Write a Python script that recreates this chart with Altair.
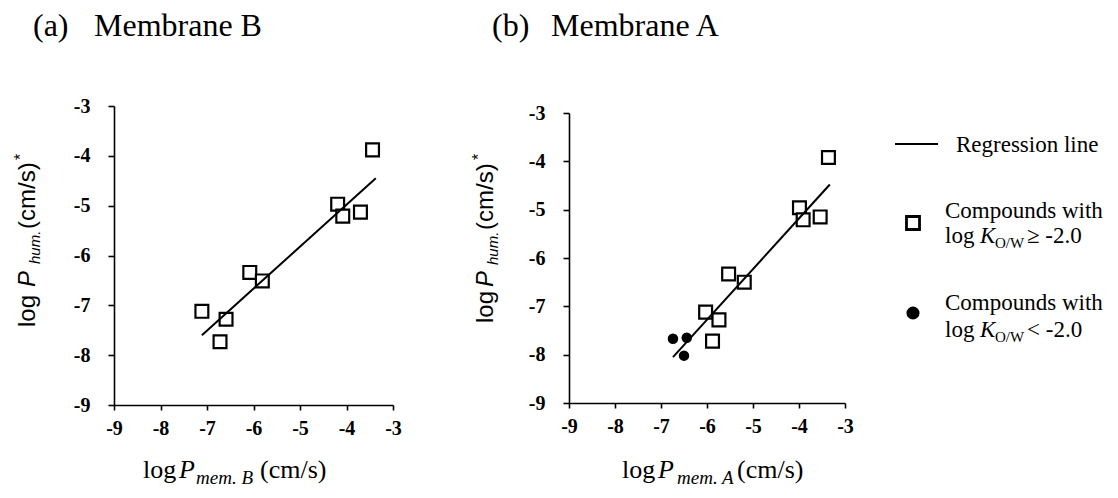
import altair as alt
import pandas as pd

# ---------------- data ----------------
ticks = [-9, -8, -7, -6, -5, -4, -3]

# (a) Membrane B : compounds with log K_O/W >= -2.0
a_x = [-7.11, -6.72, -6.59, -6.08, -5.81, -4.19, -4.08, -3.70, -3.44]
a_y = [-7.12, -7.73, -7.28, -6.34, -6.51, -4.97, -5.21, -5.13, -3.88]
a_line_x = [-7.11, -3.37]
a_line_y = [-7.60, -4.45]

# (b) Membrane A : compounds with log K_O/W >= -2.0
b_sq_x = [-6.03, -5.88, -5.74, -5.53, -5.19, -3.99, -3.91, -3.54, -3.36]
b_sq_y = [-7.12, -7.72, -7.28, -6.33, -6.50, -4.96, -5.21, -5.15, -3.92]
# (b) compounds with log K_O/W < -2.0
b_ci_x = [-6.74, -6.44, -6.50]
b_ci_y = [-7.67, -7.65, -8.02]
b_line_x = [-6.74, -3.33]
b_line_y = [-8.05, -4.48]

SERIF = "Liberation Serif"
SANS = "Liberation Sans"


def txt(s, x, y, font=SERIF, size=24, style="normal", weight="normal", angle=0):
    return alt.Chart(pd.DataFrame({"t": [s]})).mark_text(
        align="left", baseline="alphabetic", font=font, fontSize=size,
        fontStyle=style, fontWeight=weight, angle=angle, color="black"
    ).encode(x=alt.value(x), y=alt.value(y), text="t:N")


AX = alt.Axis(values=ticks, title=None, grid=False,
              labelExpr="'' + datum.value", labelFlush=False,
              labelFont=SERIF, labelFontSize=20, labelFontWeight="bold",
              labelColor="black")

sx = alt.Scale(domain=[-9, -3], nice=False, zero=False)
sy_a = alt.Scale(domain=[-9, -3], nice=False, zero=False)
# panel (b) plot area starts 7px lower than panel (a)
sy_b = alt.Scale(domain=[-9, -3], nice=False, zero=False, range=[297, 7])


def squares(xs, ys, sy):
    return alt.Chart(pd.DataFrame({"x": xs, "y": ys})).mark_point(
        shape="square", filled=True, fill="white", stroke="black",
        strokeWidth=2.2, size=165, opacity=1
    ).encode(x=alt.X("x:Q", scale=sx, axis=AX),
             y=alt.Y("y:Q", scale=sy, axis=AX))


def reg_line(xs, ys, sy):
    return alt.Chart(pd.DataFrame({"x": xs, "y": ys})).mark_line(
        color="black", strokeWidth=2
    ).encode(x=alt.X("x:Q", scale=sx), y=alt.Y("y:Q", scale=sy))


def y_title(bx, y_log, y_p, y_sub, y_cms, y_star):
    return [
        txt("log", bx, y_log, SANS, 24, angle=270),
        txt("P", bx, y_p, SANS, 24, style="italic", angle=270),
        txt("hum.", bx + 5, y_sub, SANS, 15, style="italic", angle=270),
        txt("(cm/s)", bx, y_cms, SANS, 24, angle=270),
        txt("*", bx - 9, y_star, SANS, 16, angle=270),
    ]


# ---------------- panel (a) ----------------
panel_a = alt.layer(
    squares(a_x, a_y, sy_a),
    reg_line(a_line_x, a_line_y, sy_a),
    txt("(a)", -81, -70, SERIF, 32),
    txt("Membrane B", -20, -70, SERIF, 32),
    *y_title(-79, 221, 181, 158, 123, 54),
    txt("log", 29, 372, SERIF, 26),
    txt("P", 65, 372, SERIF, 26, style="italic"),
    txt("mem. B", 82, 378, SERIF, 19, style="italic"),
    txt("(cm/s)", 146, 372, SERIF, 26),
).properties(width=279, height=299)

# ---------------- panel (b) ----------------
circles_b = alt.Chart(pd.DataFrame({"x": b_ci_x, "y": b_ci_y})).mark_point(
    shape="circle", filled=True, color="black", size=110, opacity=1
).encode(x=alt.X("x:Q", scale=sx), y=alt.Y("y:Q", scale=sy_b))

legend_line = alt.Chart(pd.DataFrame({"k": [0]})).mark_rule(
    color="black", strokeWidth=2
).encode(x=alt.value(326), x2=alt.value(369), y=alt.value(38))
legend_sq = alt.Chart(pd.DataFrame({"k": [0]})).mark_point(
    shape="square", filled=True, fill="white", stroke="black",
    strokeWidth=2.8, size=170, opacity=1
).encode(x=alt.value(344), y=alt.value(117))
legend_ci = alt.Chart(pd.DataFrame({"k": [0]})).mark_point(
    shape="circle", filled=True, color="black", size=170, opacity=1
).encode(x=alt.value(344), y=alt.value(207))

D = 7  # vertical offset of panel (b) content relative to its view top
panel_b = alt.layer(
    squares(b_sq_x, b_sq_y, sy_b),
    circles_b,
    reg_line(b_line_x, b_line_y, sy_b),
    txt("(b)", -77, -70, SERIF, 32),
    txt("Membrane A", -18, -70, SERIF, 32),
    *y_title(-76, 210 + D, 174 + D, 152 + D, 117 + D, 47 + D),
    txt("log", 53, 365 + D, SERIF, 26),
    txt("P", 89, 365 + D, SERIF, 26, style="italic"),
    txt("mem. A", 108, 371 + D, SERIF, 19, style="italic"),
    txt("(cm/s)", 168, 365 + D, SERIF, 26),
    legend_line, legend_sq, legend_ci,
    txt("Regression line", 387, 39 + D, SERIF, 23),
    txt("Compounds with", 376, 105 + D, SERIF, 23),
    txt("log", 376, 130 + D, SERIF, 23),
    txt("K", 411, 130 + D, SERIF, 23, style="italic"),
    txt("O/W", 426, 135 + D, SERIF, 15),
    txt("\u2265 -2.0", 458, 130 + D, SERIF, 23),
    txt("Compounds with", 376, 197 + D, SERIF, 23),
    txt("log", 376, 224 + D, SERIF, 23),
    txt("K", 411, 224 + D, SERIF, 23, style="italic"),
    txt("O/W", 426, 229 + D, SERIF, 15),
    txt("< -2.0", 458, 224 + D, SERIF, 23),
).properties(width=276, height=297)

chart = alt.hconcat(panel_a, panel_b, spacing=69).configure_view(
    stroke=None
).configure_axis(
    labelFont=SERIF, labelFontSize=20, labelFontWeight="bold",
    labelColor="black", domainColor="black", domainWidth=1.6,
    tickColor="black", tickWidth=1.6, grid=False,
).configure_axisX(
    tickSize=5, labelPadding=8,
).configure_axisY(
    tickSize=6, labelPadding=18,
).properties(
    padding={"left": 5, "top": 2, "right": 0, "bottom": 0},
    background="white",
)

chart.save("out.html", embed_options={"renderer": "svg", "actions": False})
